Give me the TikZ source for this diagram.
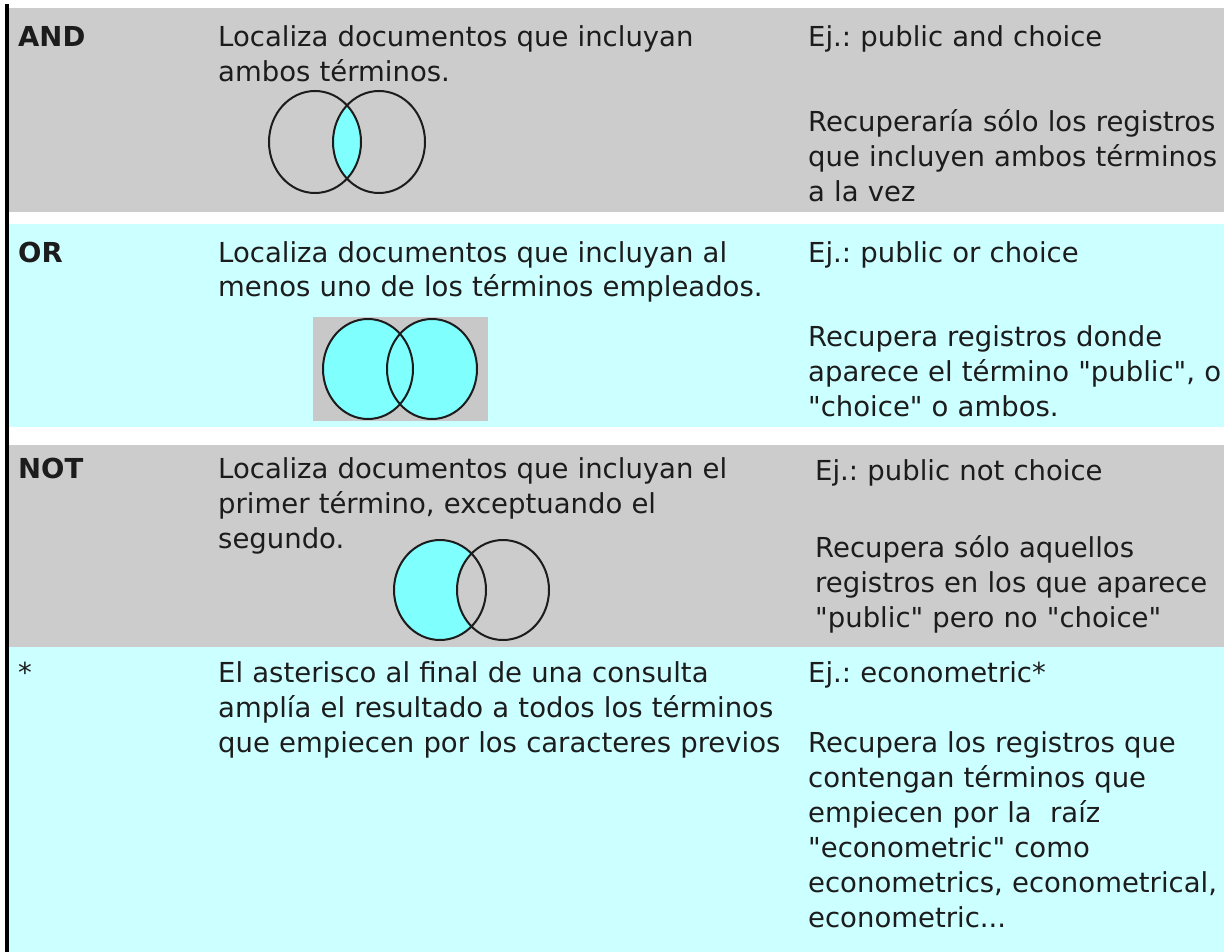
\documentclass[tikz,border=0pt]{standalone}
\usepackage{fontspec}
% loaded without the TeX mapping, so " stays straight
\newfontfamily\tablefont{DejaVu Sans}

\definecolor{rowgray}{RGB}{204,204,204}
\definecolor{rowcyan}{RGB}{204,255,255}
\definecolor{venncyan}{RGB}{128,255,255}
\definecolor{boxgray}{RGB}{200,200,200}
\definecolor{ink}{RGB}{28,28,28}

\begin{document}
\frenchspacing
\begin{tikzpicture}[x=1pt,y=-1pt,
    font=\tablefont\fontsize{27.5}{35}\selectfont,
    txt/.style={anchor=base west,inner sep=0pt,text=ink,align=left},
    op/.style={txt,font=\tablefont\fontsize{27.5}{35}\selectfont\bfseries},
    mid/.style={txt,text width=600pt},
    ex/.style={txt,text width=460pt},
    venn/.style={draw=ink,line width=2pt}]
      \useasboundingbox (0,0) rectangle (1224,952);

      % rows
      \fill[rowgray] (9,8) rectangle (1224,212);
      \fill[rowcyan] (9,224) rectangle (1224,427);
      \fill[rowgray] (9,445) rectangle (1224,647);
      \fill[rowcyan] (9,647) rectangle (1224,952);
      \fill[black] (5,4) rectangle (9,952);

      % AND
      \node[op] (and) at (18,47) {AND};
      \node[mid] (anddef) at (218,47) {Localiza documentos que incluyan\\ambos términos.};
      \node[ex] (andex) at (808,47) {Ej.: public and choice};
      \node[ex] (andres) at (808,132) {Recuperaría sólo los registros\\que incluyen ambos términos\\a la vez};
      \begin{scope}
        \clip (315,142) ellipse [x radius=46, y radius=51];
        \fill[venncyan] (379,142) ellipse [x radius=46, y radius=51];
      \end{scope}
      \draw[venn] (315,142) ellipse [x radius=46, y radius=51];
      \draw[venn] (379,142) ellipse [x radius=46, y radius=51];

      % OR
      \node[op] (or) at (18,262) {OR};
      \node[mid] (ordef) at (218,262) {Localiza documentos que incluyan al\\menos uno de los términos empleados.};
      \node[ex] (orex) at (808,262) {Ej.: public or choice};
      \node[ex] (orres) at (808,346) {Recupera registros donde\\aparece el término "public", o\\"choice" o ambos.};
      \fill[boxgray] (313,317) rectangle (488,421);
      \fill[venncyan] (368,369) ellipse [x radius=45, y radius=50];
      \fill[venncyan] (432,369) ellipse [x radius=45, y radius=50];
      \draw[venn] (368,369) ellipse [x radius=45, y radius=50];
      \draw[venn] (432,369) ellipse [x radius=45, y radius=50];

      % NOT
      \node[op] (not) at (18,478) {NOT};
      \node[mid] (notdef) at (218,478) {Localiza documentos que incluyan el\\primer término, exceptuando el\\segundo.};
      \node[ex] (notex) at (815,480) {Ej.: public not choice};
      \node[ex] (notres) at (815,557) {Recupera sólo aquellos\\registros en los que aparece\\"public" pero no "choice"};
      \fill[venncyan] (440,590) ellipse [x radius=46, y radius=50];
      \begin{scope}
        \clip (440,590) ellipse [x radius=46, y radius=50];
        \fill[rowgray] (503,590) ellipse [x radius=46, y radius=50];
      \end{scope}
      \draw[venn] (440,590) ellipse [x radius=46, y radius=50];
      \draw[venn] (503,590) ellipse [x radius=46, y radius=50];

      % truncation
      \node[txt] (star) at (18,682) {*};
      \node[mid] (stardef) at (218,682) {El asterisco al final de una consulta\\amplía el resultado a todos los términos\\que empiecen por los caracteres previos};
      \node[ex] (starex) at (808,682) {Ej.: econometric*};
      \node[ex] (starres) at (808,752) {Recupera los registros que\\contengan términos que\\empiecen por la\ \ raíz\\"econometric" como\\econometrics, econometrical,\\econometric...};
\end{tikzpicture}
\end{document}
